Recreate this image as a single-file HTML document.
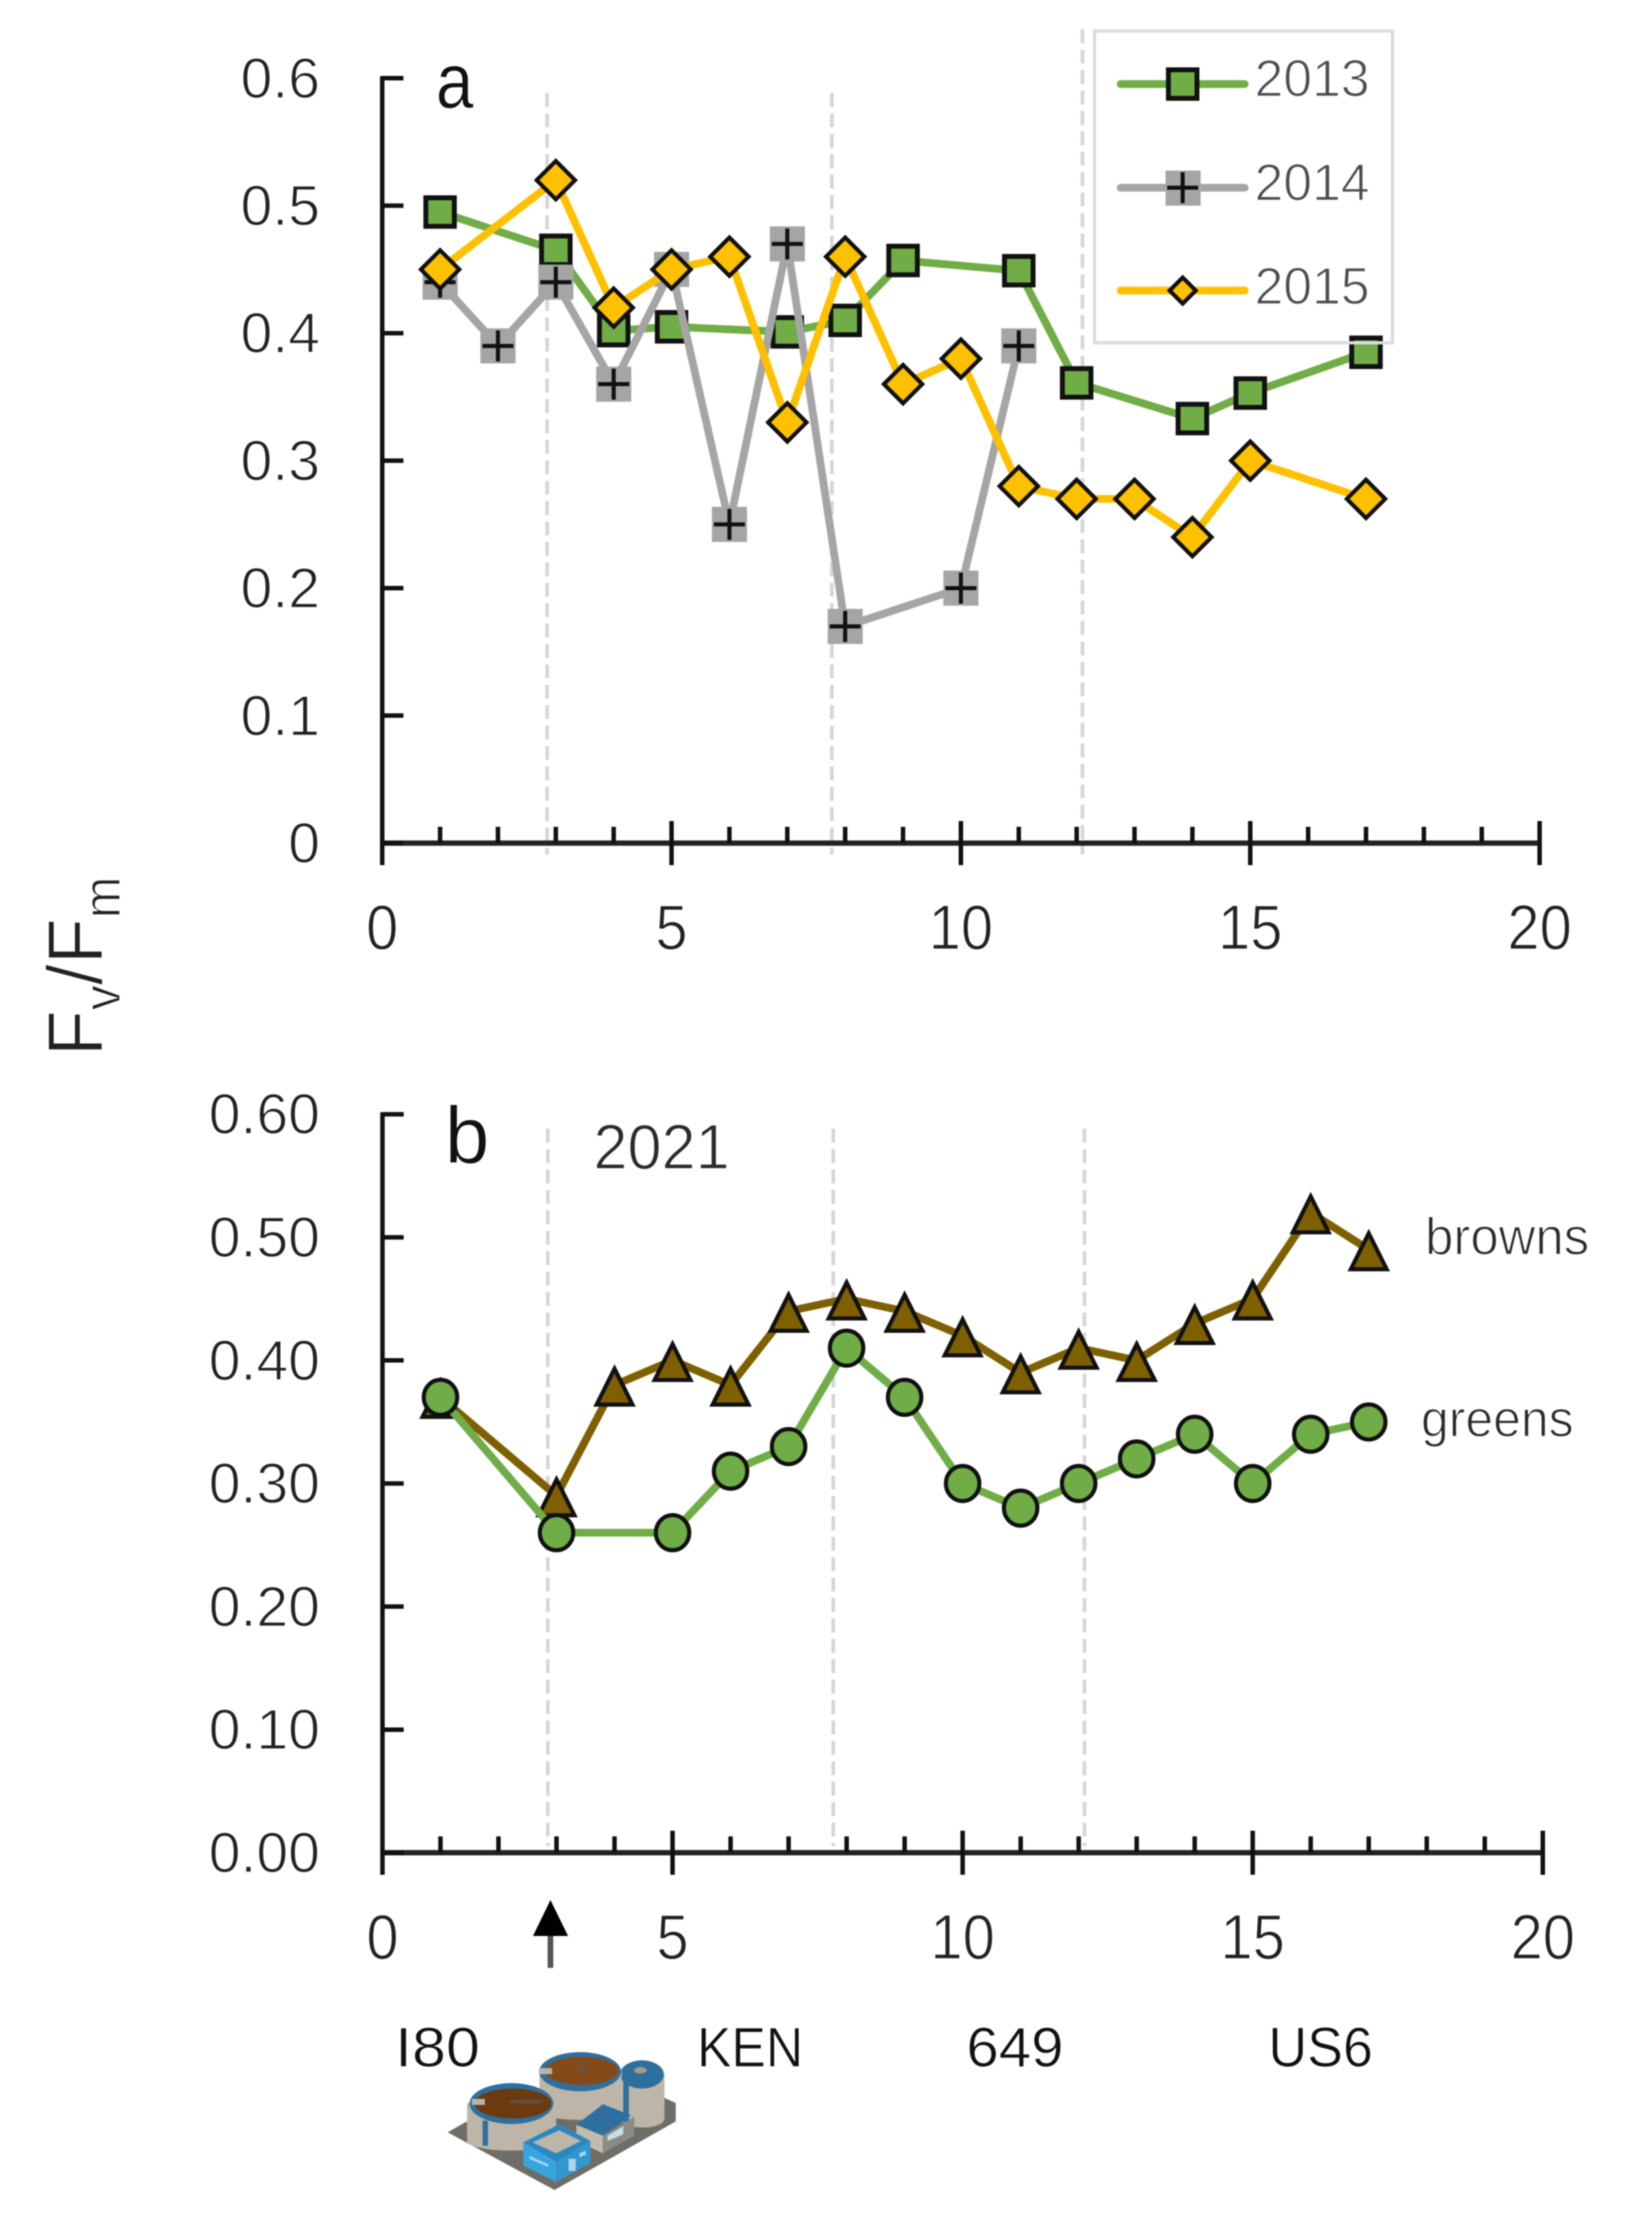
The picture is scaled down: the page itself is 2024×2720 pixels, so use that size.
<!DOCTYPE html>
<html lang="en">
<head>
<meta charset="utf-8">
<title>Fv/Fm by site</title>
<style>
html,body{margin:0;padding:0;background:#fff;}
svg{display:block;filter:blur(0.8px);}
text{font-family:"Liberation Sans",sans-serif;paint-order:normal;stroke:#fff;stroke-width:1.4px;}
.tick{font-size:70px;fill:#222;}
.xtick{font-size:78px;fill:#222;}
</style>
</head>
<body>
<svg id="chart" xmlns="http://www.w3.org/2000/svg" width="2024" height="2720" viewBox="0 0 2024 2720">
  <rect x="0" y="0" width="2024" height="2720" fill="#fff" style="stroke:none"/>
  <g id="panel-a"></g>
  <g id="panel-b"></g>

  <text x="534" y="132" font-size="96" textLength="46" lengthAdjust="spacingAndGlyphs" fill="#111" style="stroke-width:.8px">a</text>
  <text x="545" y="1425" font-size="98" fill="#111" style="stroke-width:.8px">b</text>
  <text x="727" y="1432" font-size="78" textLength="167" lengthAdjust="spacingAndGlyphs" fill="#2b2b2b">2021</text>
  <text x="1746" y="1537" font-size="64" textLength="201" lengthAdjust="spacingAndGlyphs" fill="#2b2b2b">browns</text>
  <text x="1741" y="1760" font-size="63" textLength="187" lengthAdjust="spacingAndGlyphs" fill="#2b2b2b">greens</text>

  <text transform="translate(125,1294) rotate(-90)" textLength="220" lengthAdjust="spacingAndGlyphs" font-size="96" fill="#222">F<tspan font-size="64" dy="22">v</tspan><tspan dy="-22">/F</tspan><tspan font-size="64" dy="22">m</tspan></text>

  <g>
    <rect x="1341" y="38" width="365" height="382" fill="none" stroke="#dcdcdc" stroke-width="4" style="stroke:#dcdcdc"/>
    <g>
      <line x1="1373" y1="103" x2="1525" y2="103" stroke="#70ad47" stroke-width="9.5" stroke-linecap="round"/>
      <rect x="1431.5" y="85.5" width="35" height="35" fill="#70ad47" stroke="#111" stroke-width="6"/>
      <text x="1537" y="118" font-size="64" textLength="141" lengthAdjust="spacingAndGlyphs" fill="#4d4d4d">2013</text>
    </g>
    <g>
      <line x1="1373" y1="230" x2="1525" y2="230" stroke="#a5a5a5" stroke-width="9.5" stroke-linecap="round"/>
      <rect x="1428" y="209" width="43" height="43" fill="#a5a5a5"/>
      <path d="M1430 230H1468M1449 211V249" stroke="#111" stroke-width="5" fill="none"/>
      <text x="1537" y="245.5" font-size="64" textLength="141" lengthAdjust="spacingAndGlyphs" fill="#4d4d4d">2014</text>
    </g>
    <g>
      <line x1="1373" y1="356" x2="1525" y2="356" stroke="#ffc000" stroke-width="9.5" stroke-linecap="round"/>
      <path d="M1449 340L1465 356L1449 372L1433 356Z" fill="#ffc000" stroke="#111" stroke-width="5"/>
      <text x="1537" y="372.7" font-size="64" textLength="141" lengthAdjust="spacingAndGlyphs" fill="#4d4d4d">2015</text>
    </g>
  </g>

  <g>
    <line x1="674.4" y1="2368" x2="674.4" y2="2411" stroke="#555" stroke-width="7"/>
    <path d="M674.4 2328L696 2372H653Z" fill="#000"/>
  </g>

  <text x="484" y="2532" font-size="69" textLength="104" lengthAdjust="spacingAndGlyphs" fill="#111" style="stroke-width:.8px">I80</text>
  <text x="854" y="2532" font-size="69" textLength="130" lengthAdjust="spacingAndGlyphs" fill="#111" style="stroke-width:.8px">KEN</text>
  <text x="1184" y="2532" font-size="69" textLength="119" lengthAdjust="spacingAndGlyphs" fill="#111" style="stroke-width:.8px">649</text>
  <text x="1554" y="2532" font-size="69" textLength="128" lengthAdjust="spacingAndGlyphs" fill="#111" style="stroke-width:.8px">US6</text>

  <g transform="translate(400,2240) scale(0.3827,0.3333)">
    <path d="M388 1118L445 1080L1080 990L1118 1010V1078L730 1330Z" fill="#6f6e66"/>
    <rect x="945" y="905" width="137" height="165" fill="#bdb5a7"/>
    <ellipse cx="1013" cy="1070" rx="68" ry="30" fill="#bdb5a7"/>
    <rect x="950" y="930" width="18" height="150" fill="#2f6f9f"/>
    <ellipse cx="1010" cy="905" rx="70" ry="52" fill="#2f6f9f"/>
    <ellipse cx="1005" cy="890" rx="20" ry="12" fill="#a89a7a"/>
    <rect x="682" y="892" width="263" height="150" fill="#bdb5a7"/>
    <ellipse cx="812" cy="1042" rx="131" ry="30" fill="#bdb5a7"/>
    <ellipse cx="812" cy="895" rx="131" ry="72" fill="#2f6f9f"/>
    <ellipse cx="817" cy="892" rx="118" ry="52" fill="#854a1a"/>
    <ellipse cx="818" cy="885" rx="14" ry="8" fill="#5f5a50"/>
    <rect x="680" y="882" width="42" height="22" fill="#b8b4ac"/>
    <rect x="450" y="1010" width="285" height="140" fill="#bdb5a7"/>
    <ellipse cx="592" cy="1150" rx="142" ry="35" fill="#bdb5a7"/>
    <rect x="500" y="1075" width="17" height="92" fill="#2f6f9f"/>
    <ellipse cx="592" cy="1012" rx="134" ry="75" fill="#2f6f9f"/>
    <ellipse cx="597" cy="1012" rx="123" ry="55" fill="#6b3a0f"/>
    <ellipse cx="640" cy="1005" rx="55" ry="8" fill="#5f5040"/>
    <rect x="465" y="995" width="42" height="22" fill="#b8b4ac"/>
    <path d="M800 1090L885 1130V1195L800 1150Z" fill="#c2bbae"/>
    <path d="M885 1130L985 1060V1130L885 1195Z" fill="#8b8b85"/>
    <path d="M800 1090L885 1015L975 1055L885 1130Z" fill="#2f6f9f"/>
    <path d="M900 1130L950 1095V1125L900 1150Z" fill="#c5dde6"/>
    <path d="M630 1155L745 1088L845 1150L735 1225Z" fill="#2a88c0"/>
    <path d="M660 1155L745 1110L815 1150L735 1195Z" fill="#bdb5a7"/>
    <path d="M630 1155L735 1225V1300L630 1240Z" fill="#37a5df"/>
    <path d="M735 1225L845 1150V1230L735 1300Z" fill="#3097cf"/>
    <path d="M650 1205L710 1235V1245L650 1215Z" fill="#a8d8ee"/>
    <path d="M775 1215H798V1260H775Z" fill="#a8d8ee"/>
    <path d="M810 1195L830 1185V1200L810 1210Z" fill="#a8d8ee"/>
  </g>

<script>
// Panel a: site number and Fv/Fm per year
const sites2013 = [1, 3, 4, 5, 7, 8, 9, 11, 12, 14, 15, 17];
const values2013 = [0.495, 0.465, 0.402, 0.405, 0.401, 0.41, 0.457, 0.449, 0.361, 0.333, 0.353, 0.385];
const sites2014 = [1, 2, 3, 4, 5, 6, 7, 8, 10, 11];
const values2014 = [0.44, 0.39, 0.44, 0.36, 0.45, 0.25, 0.47, 0.17, 0.20, 0.39];
const sites2015 = [1, 3, 4, 5, 6, 7, 8, 9, 10, 11, 12, 13, 14, 15, 17];
const values2015 = [0.45, 0.52, 0.42, 0.45, 0.46, 0.33, 0.46, 0.36, 0.38, 0.28, 0.27, 0.27, 0.24, 0.30, 0.27];
// Panel b: site number and Fv/Fm per group, 2021
const sitesBrowns = [1, 3, 4, 5, 6, 7, 8, 9, 10, 11, 12, 13, 14, 15, 16, 17];
const valuesBrowns = [0.37, 0.29, 0.38, 0.40, 0.38, 0.44, 0.45, 0.44, 0.42, 0.39, 0.41, 0.40, 0.43, 0.45, 0.52, 0.49];
const sitesGreens = [1, 3, 5, 6, 7, 8, 9, 10, 11, 12, 13, 14, 15, 16, 17];
const valuesGreens = [0.37, 0.26, 0.26, 0.31, 0.33, 0.41, 0.37, 0.30, 0.28, 0.30, 0.32, 0.34, 0.30, 0.34, 0.35];
// Axes
const yTicksA = [0, 0.1, 0.2, 0.3, 0.4, 0.5, 0.6];
const yLabelsA = ["0", "0.1", "0.2", "0.3", "0.4", "0.5", "0.6"];
const yTicksB = [0, 0.1, 0.2, 0.3, 0.4, 0.5, 0.6];
const yLabelsB = ["0.00", "0.10", "0.20", "0.30", "0.40", "0.50", "0.60"];
const xTickLabels = [0, 5, 10, 15, 20];
const xMax = 20;
const segmentBoundaries = [2.85, 7.77, 12.1];

const NS = "http://www.w3.org/2000/svg";
const xA = function (v) { return 468.3 + 70.9 * v; };
const yA = function (v) { return 1033 - 1562 * v; };
const xB = function (v) { return 468.6 + 71.08 * v; };
const yB = function (v) { return 2270 - 1508 * v; };

function make(parent, tag, props) {
  const el = document.createElementNS(NS, tag);
  for (const k in props) { el.setAttribute(k, props[k]); }
  parent.appendChild(el);
  return el;
}

function drawAxes(g, xf, yf, ticks, labels, labelBaseline, guideBottom, guideTops) {
  const x0 = xf(0), y0 = yf(0), yTop = yf(0.6), x20 = xf(xMax);
  segmentBoundaries.forEach(function (b, i) {
    const guide = make(g, "line", { x1: xf(b), x2: xf(b), y1: guideTops[i], y2: guideBottom, stroke: "#d6d6d6", "stroke-width": 4.5, "stroke-dasharray": "17 8" });
    
    
  });
  const yAxis = make(g, "line", { x1: x0, x2: x0, y1: yTop - 2.5, y2: y0 + 27, stroke: "#111", "stroke-width": 5.5 });
  
  
  const xAxis = make(g, "line", { x1: x0, x2: x20, y1: y0, y2: y0, stroke: "#222", "stroke-width": 6.5 });
  
  
  ticks.forEach(function (t, i) {
    const tick = make(g, "line", { x1: x0, x2: x0 + 26, y1: yf(t), y2: yf(t), stroke: "#111", "stroke-width": 5.5 });
    
    
    const label = make(g, "text", { x: 392, y: yf(t) + 24, "text-anchor": "end", class: "tick" });
    
    
    label.textContent = labels[i];
  });
  for (let i = 1; i <= xMax; i++) {
    const major = i % 5 === 0;
    const tick = make(g, "line", { x1: xf(i), x2: xf(i), y1: major ? y0 - 27 : y0 - 20, y2: major ? y0 + 27 : y0, stroke: "#111", "stroke-width": 5.5 });
    
    
  }
  xTickLabels.forEach(function (v) {
    const text = String(v);
    const label = make(g, "text", { x: xf(v), y: labelBaseline, "text-anchor": "middle", class: "xtick", textLength: 39.5 * text.length, lengthAdjust: "spacingAndGlyphs" });
    
    
    label.textContent = text;
  });
}

function drawLine(g, xs, ys, xf, yf, color, name) {
  const pts = xs.map(function (x, i) { return xf(x).toFixed(1) + "," + yf(ys[i]).toFixed(1); }).join(" ");
  const line = make(g, "polyline", { points: pts, fill: "none", stroke: color, "stroke-width": 9.5, "stroke-linejoin": "miter" });
  
  
}

function drawMarker(g, kind, cx, cy, name) {
  let m;
  if (kind === "square") {
    m = make(g, "rect", { x: cx - 17.5, y: cy - 17.5, width: 35, height: 35, fill: "#70ad47", stroke: "#111", "stroke-width": 6 });
  } else if (kind === "plus") {
    m = make(g, "g", {});
    make(m, "rect", { x: cx - 21.5, y: cy - 21.5, width: 43, height: 43, fill: "#a5a5a5" });
    make(m, "path", { d: "M" + (cx - 19) + " " + cy + "H" + (cx + 19) + "M" + cx + " " + (cy - 19) + "V" + (cy + 19), stroke: "#111", "stroke-width": 5, fill: "none" });
  } else if (kind === "diamond") {
    m = make(g, "path", { d: "M" + cx + " " + (cy - 23.5) + "L" + (cx + 23.5) + " " + cy + "L" + cx + " " + (cy + 23.5) + "L" + (cx - 23.5) + " " + cy + "Z", fill: "#ffc000", stroke: "#111", "stroke-width": 5 });
  } else if (kind === "triangle") {
    m = make(g, "path", { d: "M" + cx + " " + (cy - 20) + "L" + (cx + 22) + " " + (cy + 24) + "L" + (cx - 22) + " " + (cy + 24) + "Z", fill: "#7f6000", stroke: "#111", "stroke-width": 5 });
  } else {
    m = make(g, "ellipse", { cx: cx, cy: cy, rx: 20.5, ry: 21.5, fill: "#70ad47", stroke: "#111", "stroke-width": 5 });
  }
  
  
}

function drawSeries(g, xs, ys, xf, yf, color, kind, name) {
  drawLine(g, xs, ys, xf, yf, color, name + "-line");
  xs.forEach(function (x, i) {
    drawMarker(g, kind, xf(x), yf(ys[i]), name + "-point");
  });
}

const panelA = document.getElementById("panel-a");
const panelB = document.getElementById("panel-b");

drawAxes(panelA, xA, yA, yTicksA, yLabelsA, 1163, 1047, [114, 114, 36]);
drawSeries(panelA, sites2013, values2013, xA, yA, "#70ad47", "square", "series-2013");
drawSeries(panelA, sites2014, values2014, xA, yA, "#a5a5a5", "plus", "series-2014");
drawSeries(panelA, sites2015, values2015, xA, yA, "#ffc000", "diamond", "series-2015");

drawAxes(panelB, xB, yB, yTicksB, yLabelsB, 2400, 2262, [1383, 1383, 1383]);
drawSeries(panelB, sitesBrowns, valuesBrowns, xB, yB, "#7f6000", "triangle", "series-browns");
drawSeries(panelB, sitesGreens, valuesGreens, xB, yB, "#70ad47", "circle", "series-greens");
</script>
</svg>
</body>
</html>
